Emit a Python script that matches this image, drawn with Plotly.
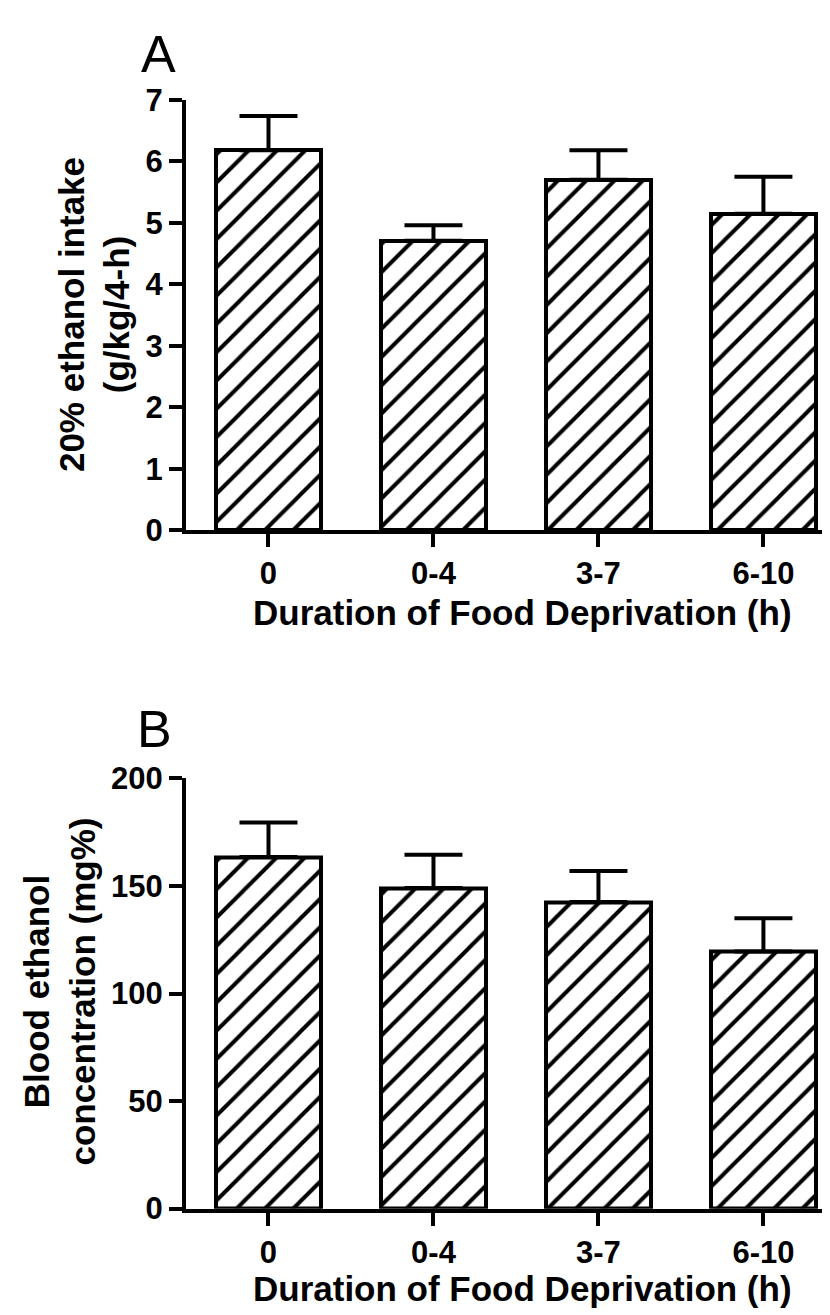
import plotly.graph_objects as go

categories = ["0", "0-4", "3-7", "6-10"]
intake_means = [6.18, 4.71, 5.70, 5.15]
intake_sem = [0.56, 0.25, 0.48, 0.60]
bec_means = [163.5, 149.0, 142.5, 119.5]
bec_sem = [16.0, 15.5, 14.5, 15.5]

W, H = 830, 1315
FONT = "Liberation Sans, Arial, sans-serif"

xpos = list(range(len(categories)))


def bar_trace(vals, errs, xa, ya):
    return go.Bar(
        x=xpos, y=vals, width=0.64, xaxis=xa, yaxis=ya,
        marker=dict(color="white",
                    line=dict(color="black", width=4),
                    pattern=dict(shape="/", fgcolor="black", bgcolor="white",
                                 fgopacity=1, fillmode="replace",
                                 size=20, solidity=0.2)),
        error_y=dict(type="data", symmetric=False, array=errs,
                     arrayminus=[0] * len(errs), color="black",
                     thickness=4, width=29),
        showlegend=False,
    )


fig = go.Figure()
fig.add_trace(bar_trace(intake_means, intake_sem, "x", "y"))
fig.add_trace(bar_trace(bec_means, bec_sem, "x2", "y2"))

xdom = [178 / W, 1.0]
ydomA = [(H - 519) / H, (H - 77) / H]
ydomB = [(H - 1216) / H, (H - 774) / H]

tickfont = dict(family=FONT, size=31, color="black", weight="bold")

common_x = dict(range=[-0.5, 3.452], tickmode="array", tickvals=xpos,
                ticktext=categories, showline=True, linewidth=4,
                linecolor="black", ticks="outside", ticklen=13, tickwidth=4,
                tickcolor="black", showgrid=False, zeroline=False,
                tickfont=tickfont, domain=xdom)
common_y = dict(showline=True, linewidth=4, linecolor="black",
                ticks="outside", ticklen=13, tickwidth=4, tickcolor="black",
                showgrid=False, zeroline=False, tickfont=tickfont)

fig.update_layout(
    width=W, height=H,
    margin=dict(l=0, r=0, t=0, b=0),
    paper_bgcolor="white", plot_bgcolor="white",
    bargap=0,
    xaxis=dict(common_x, anchor="y"),
    xaxis2=dict(common_x, anchor="y2"),
    yaxis=dict(common_y, range=[0, 7], dtick=1, domain=ydomA, anchor="x"),
    yaxis2=dict(common_y, range=[0, 200], dtick=50, domain=ydomB, anchor="x2"),
)

title_font = dict(family=FONT, size=35, color="black", weight="bold")


def px_ann(text, x, y, font, angle=0):
    fig.add_annotation(text=text, xref="paper", yref="paper",
                       x=x / W, y=1 - y / H, xanchor="center", yanchor="middle",
                       showarrow=False, textangle=angle, font=font)


px_ann("Duration of Food Deprivation (h)", 514, 604, title_font)
px_ann("Duration of Food Deprivation (h)", 514, 1298, title_font)
px_ann("20% ethanol intake<br>(g/kg/4-h)", 86, 298, title_font, -90)
px_ann("Blood ethanol<br>concentration (mg%)", 52, 993, title_font, -90)

label_font = dict(family=FONT, size=52, color="black")
px_ann("A", 150, 30, label_font)
px_ann("B", 146, 723, label_font)

fig.write_html("out.html")
